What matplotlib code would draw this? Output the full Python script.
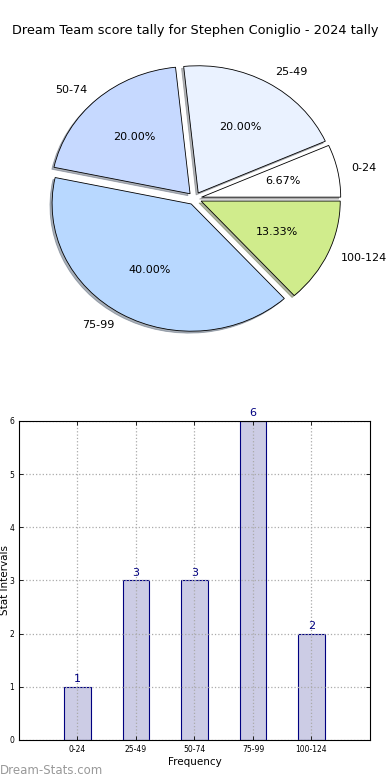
import matplotlib
matplotlib.use("Agg")
import matplotlib.pyplot as plt

categories = ["0-24", "25-49", "50-74", "75-99", "100-124"]
counts = [1, 3, 3, 6, 2]
pie_colors = ["#ffffff", "#eaf2ff", "#c6d9ff", "#b8d8ff", "#d0ec8c"]
title = "Dream Team score tally for Stephen Coniglio - 2024 tally"

fig = plt.figure(figsize=(3.9, 7.8), dpi=100)

# Pie
axp = fig.add_axes([0.0533, 0.5417, 0.892, 0.4077])
wedges, texts, autotexts = axp.pie(
    counts, labels=categories, colors=pie_colors, autopct="%1.2f%%",
    explode=[0.05] * len(counts),
    shadow={"ox": -0.011, "oy": -0.011, "shade": 0.55},
    startangle=0,
    wedgeprops=dict(edgecolor="black", linewidth=0.6),
    textprops=dict(fontsize=8))
axp.set_aspect("auto")
axp.set_xlim(-1.25, 1.25)
axp.set_ylim(-1.25, 1.25)
fig.text(0.5, 0.961, title, ha="center", va="center", fontsize=9.3)

# Bars
axb = fig.add_axes([0.0487, 0.0513, 0.9, 0.409])
x = list(range(len(categories)))
bars = axb.bar(x, counts, width=0.45, facecolor=(0, 0, 0.5, 0.2),
               edgecolor="navy", linewidth=0.8, zorder=1)
for xi, c in zip(x, counts):
    axb.text(xi, c + 0.05, str(c), ha="center", va="bottom", color="navy", fontsize=8)
axb.set_xlim(-1, 5)
axb.set_ylim(0, 6)
axb.set_xticks(x)
axb.set_xticklabels(categories, fontsize=5.5)
axb.set_yticks(range(0, 7))
axb.tick_params(axis="y", labelsize=5.5)
axb.tick_params(direction="in", top=True, right=True, length=3, width=0.6)
axb.grid(True, linestyle=":", color="#aaaaaa", linewidth=0.9, zorder=2)
axb.set_axisbelow(False)
for sp in axb.spines.values():
    sp.set_zorder(3)
axb.set_xlabel("Frequency", fontsize=7.5, labelpad=2)
axb.set_ylabel("Stat Intervals", fontsize=7.5)
axb.yaxis.set_label_coords(-0.026, 0.5)

fig.text(0.0, 0.012, "Dream-Stats.com", color="#999999", fontsize=8.5,
         ha="left", va="center")

fig.savefig("out.png", dpi=100)
